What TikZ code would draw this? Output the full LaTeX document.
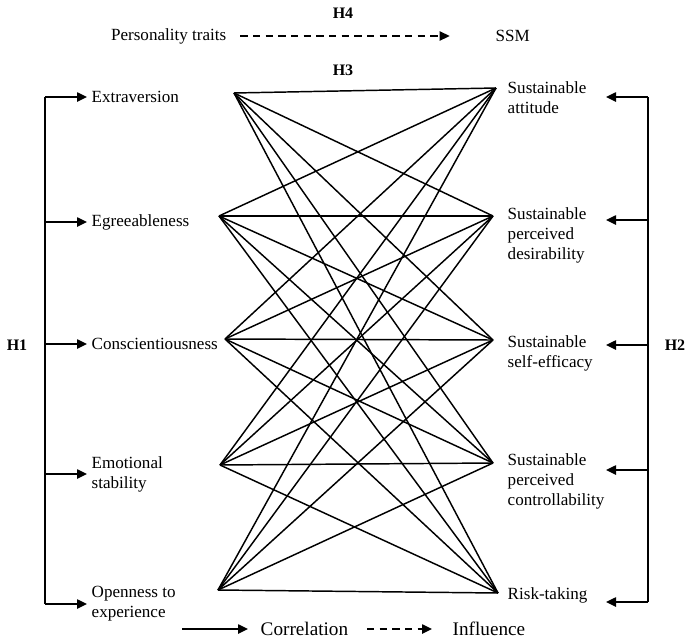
\documentclass[tikz,border=0pt]{standalone}
\usepackage{fontspec}
\setmainfont{Liberation Serif}
\usetikzlibrary{arrows.meta}

\begin{document}
\begin{tikzpicture}[x=0.75pt,y=-0.75pt,line width=1.1pt,
	txt/.style={inner sep=0pt,align=left,font=\fontsize{12.8}{15}\selectfont},
	hyp/.style={inner sep=0pt,font=\fontsize{12}{14}\selectfont\bfseries},
	leg/.style={inner sep=0pt,font=\fontsize{14.4}{17}\selectfont},
	tip/.style={-{Triangle[length=7.5pt,width=7pt]}},
	dsh/.style={tip,dash pattern=on 5.5pt off 4pt}]
\useasboundingbox (0,0) rectangle (686,640);

\node[hyp](h4) at (343,13){H4};
\node[txt,anchor=east](pers) at (227,36){Personality traits};
\node[txt,anchor=west](ssm) at (495,36){SSM};
\draw[dsh,shorten <=10pt,shorten >=34pt] (pers.east) -- (ssm.west);
\node[hyp](h3) at (343,70){H3};

\node[txt,anchor=west](ext) at (91,97){Extraversion};
\node[txt,anchor=west](agr) at (91,222){Egreeableness};
\node[txt,anchor=west](con) at (91,344){Conscientiousness};
\node[txt,anchor=west](emo) at (91,474){Emotional\\stability};
\node[txt,anchor=west](ope) at (91,604){Openness to\\experience};

\node[txt,anchor=west](att) at (507,98){Sustainable\\attitude};
\node[txt,anchor=west](des) at (507,235){Sustainable\\perceived\\desirability};
\node[txt,anchor=west](eff) at (507,353){Sustainable\\self-efficacy};
\node[txt,anchor=west](ctl) at (507,481){Sustainable\\perceived\\controllability};
\node[txt,anchor=west](rsk) at (507,595){Risk-taking};

\node[hyp](h1) at (17,345){H1};
\node[hyp](h2) at (675,345){H2};

\coordinate (lb) at (45,97);
\coordinate (lbend) at (45,604);
\draw (lb) -- (lbend);
\foreach \n in {ext,agr,con,emo,ope}
	\draw[tip,shorten >=3pt] (lb |- \n.west) -- (\n.west);

\coordinate (rb) at (648,97);
\coordinate (rbend) at (648,602);
\draw (rb) -- (rbend);
\foreach \y in {97,220,345,470,602}
	\draw[tip] (648,\y) -- (606,\y);

\foreach \n/\x/\y in {pe/234/93,pa/219/216,pc/225/339,ps/220/465,po/218/590,
	ra/496/88,rd/493/216,re/493/340,rc/493/463,rr/498/593}
	\coordinate (\n) at (\x,\y);
\foreach \l in {pe,pa,pc,ps,po}
	\foreach \r in {ra,rd,re,rc,rr}
		\draw (\l) -- (\r);

\node[leg,anchor=west](cor) at (260,629){Correlation};
\node[leg,anchor=west](inf) at (452,629){Influence};
\coordinate (corbeg) at (182,629);
\coordinate (infbeg) at (367,629);
\draw[tip,shorten >=9pt] (corbeg) -- (cor.west);
\draw[dsh,shorten >=15pt] (infbeg) -- (inf.west);
\end{tikzpicture}
\end{document}
